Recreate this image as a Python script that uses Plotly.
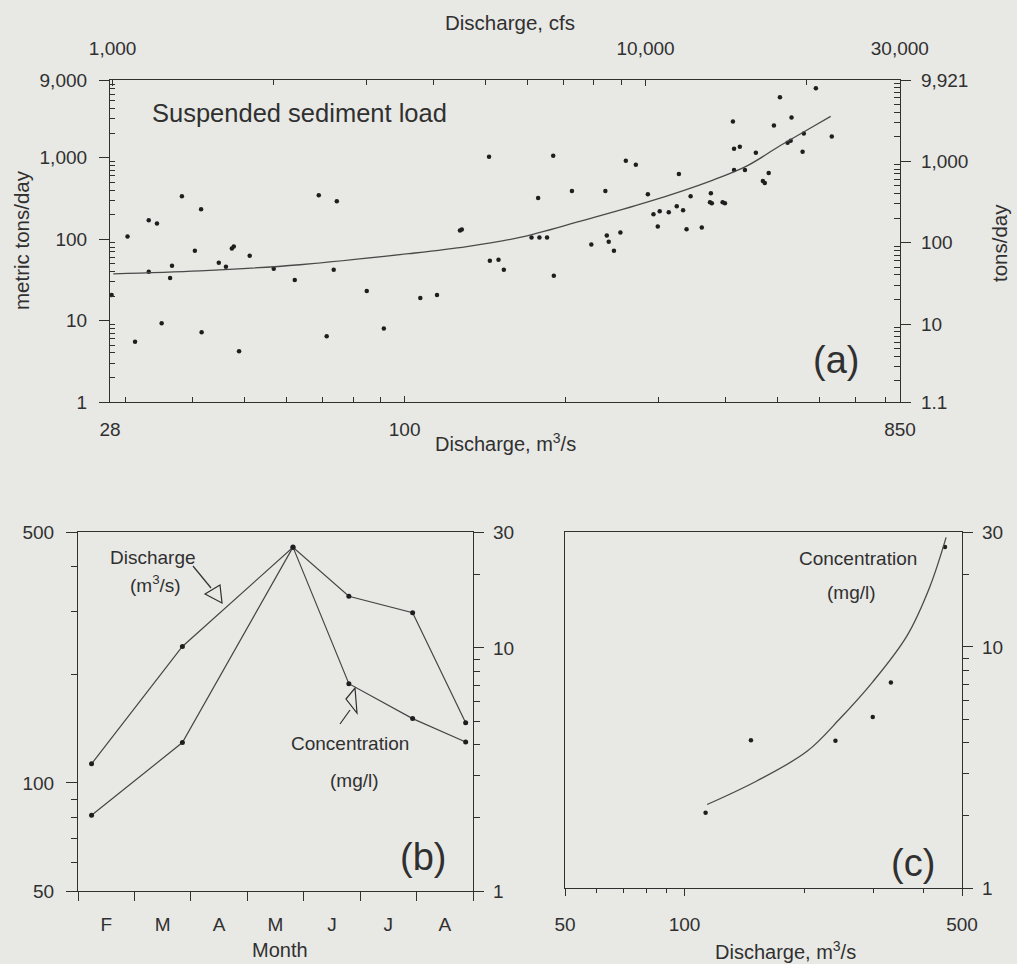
import math
import plotly.graph_objects as go

# ---------------- data ----------------
# (a) suspended sediment load (metric tons/day) vs discharge (m3/s)
sed_discharge = [28.2, 30.2, 31.2, 33.1, 34.3, 33.1, 35.0, 36.3, 36.6, 38.2,
                 40.4, 41.5, 41.6, 44.8, 46.2, 47.4, 47.8, 48.9, 51.2, 56.8,
                 62.2, 69.0, 71.4, 73.6, 74.6, 84.9, 91.4, 107, 115, 127,
                 128, 144, 144.5, 150, 153.5, 173, 179, 185, 190.5, 190,
                 178, 206, 224, 239.5, 241.5, 247, 254, 238, 260, 271.5,
                 286, 293, 301, 313, 298.5, 324, 333, 327, 338, 344,
                 361, 374, 377, 375.5, 395, 399, 413, 415, 425.5, 415,
                 435, 456, 470, 474, 482, 493, 506, 523, 530, 532,
                 558, 561, 591, 633]
sed_load = [20.6, 108, 5.5, 170, 156, 39.7, 9.3, 33.4, 47.1, 337,
            72, 233, 7.2, 51.3, 45.8, 76.5, 81, 4.2, 62.6, 43.2,
            31.6, 347, 6.4, 42, 292, 23.1, 8.0, 18.9, 20.6, 128,
            131, 1026, 54.3, 55.9, 42, 105, 105, 105, 35.4, 1056,
            319, 389, 86, 111, 93, 72, 121, 389, 915, 817,
            357, 202, 220, 214, 143, 254, 226, 632, 132, 337,
            139, 284, 276, 367, 284, 276, 2786, 1290, 1365, 708,
            708, 1150, 517, 489, 650, 2486, 5525, 1530, 1620, 3123,
            1184, 1978, 7141, 1816]
fit_discharge = [28.4, 41.3, 63.6, 101.8, 130.8, 164.5, 213, 285, 379, 439, 506, 583, 630]
fit_load = [37.5, 40.8, 48.5, 66.3, 81, 105, 165, 284, 532, 794, 1400, 2400, 3213]

# (b) seasonal discharge and concentration
month_labels = ["F", "M", "A", "M", "J", "J", "A"]
sample_month = [0.24, 1.85, 3.81, 4.80, 5.93, 6.87]   # months after 1 February
discharge = [113, 240, 453, 331, 298, 147]             # m3/s
concentration = [2.05, 4.08, 26.0, 7.13, 5.12, 4.10]   # mg/l

# (c) concentration rating curve
rating_discharge = [114, 152, 203.5, 246.5, 298, 363, 415, 456]
rating_conc = [2.22, 2.78, 3.69, 5.05, 7.17, 11.1, 17.8, 28.5]

CFS_PER_CMS = 35.3147
SHORT_PER_METRIC = 1.10231

# ---------------- layout helpers ----------------
W, H = 1017, 964
def fx(px): return px / W
def fy(py): return 1 - py / H
def L(v): return math.log10(v)

INK = "#303030"
BG = "#e8e8e5"
FONT = "Liberation Sans, Arial, Helvetica, sans-serif"
EPS = 1e-5

A_X = [fx(110), fx(900)]; A_Y = [fy(402), fy(80)]
B_X = [fx(78), fx(473)];  B_Y = [fy(891), fy(532)]
C_X = [fx(565), fx(962)]; C_Y = [fy(888), fy(532)]

def ax_style(**kw):
    d = dict(showline=True, linecolor=INK, linewidth=1.2, showgrid=False,
             zeroline=False, tickcolor=INK, tickwidth=1.1, automargin=False,
             tickfont=dict(family=FONT, size=19, color=INK), fixedrange=True)
    d.update(kw)
    return d

def minor(vals, ticks="inside", ln=4):
    return dict(tickvals=vals, ticks=ticks, ticklen=ln, tickcolor=INK, tickwidth=1, showgrid=False)

dec_minor = [m * 10 ** e for e in range(0, 4) for m in range(2, 10)]

fig = go.Figure()

# (a)
fig.add_trace(go.Scatter(x=sed_discharge, y=sed_load, mode="markers",
                         marker=dict(size=4.5, color="#1e1e1e"), xaxis="x", yaxis="y",
                         showlegend=False, hoverinfo="skip"))
fig.add_trace(go.Scatter(x=fit_discharge, y=fit_load, mode="lines", line_shape="spline",
                         line=dict(color="#4a4a4a", width=1.3), xaxis="x", yaxis="y",
                         showlegend=False, hoverinfo="skip"))
fig.add_trace(go.Scatter(x=[q * CFS_PER_CMS for q in sed_discharge],
                         y=[v * SHORT_PER_METRIC for v in sed_load], mode="markers",
                         marker=dict(size=1, opacity=0), xaxis="x2", yaxis="y2",
                         showlegend=False, hoverinfo="skip"))
# (b)
fig.add_trace(go.Scatter(x=sample_month, y=discharge, mode="lines+markers",
                         line=dict(color="#454545", width=1.2),
                         marker=dict(size=5, color="#1e1e1e"), xaxis="x3", yaxis="y3",
                         showlegend=False, hoverinfo="skip"))
fig.add_trace(go.Scatter(x=sample_month, y=concentration, mode="lines+markers",
                         line=dict(color="#454545", width=1.2),
                         marker=dict(size=5, color="#1e1e1e"), xaxis="x3", yaxis="y4",
                         showlegend=False, hoverinfo="skip"))
# (c)
fig.add_trace(go.Scatter(x=discharge, y=concentration, mode="markers",
                         marker=dict(size=4.5, color="#1e1e1e"), xaxis="x4", yaxis="y5",
                         showlegend=False, hoverinfo="skip"))
fig.add_trace(go.Scatter(x=rating_discharge, y=rating_conc, mode="lines", line_shape="spline",
                         line=dict(color="#4a4a4a", width=1.3), xaxis="x4", yaxis="y5",
                         showlegend=False, hoverinfo="skip"))

qmin, qmax = 28, 850
lmin, lmax = 1, 9000

fig.update_layout(
    width=W, height=H, margin=dict(l=0, r=0, t=0, b=0, pad=0), autosize=False,
    paper_bgcolor=BG, plot_bgcolor="rgba(0,0,0,0)", showlegend=False,
    xaxis=ax_style(type="log", domain=A_X, anchor="y",
                   range=[L(qmin) - EPS, L(qmax) + EPS],
                   tickmode="array", tickvals=[28, 100, 850], ticktext=["28", "100", "850"],
                   ticks="inside", ticklen=6, ticklabelstandoff=10,
                   minor=minor([30, 40, 50, 60, 70, 80, 90, 200, 300, 400, 500, 600, 700, 800], "inside", 5)),
    xaxis2=ax_style(type="log", overlaying="x", anchor="y", side="top",
                    range=[L(qmin * CFS_PER_CMS) - EPS, L(qmax * CFS_PER_CMS) + EPS],
                    tickmode="array", tickvals=[1000, 10000, 30000],
                    ticktext=["1,000", "10,000", "30,000"],
                    ticks="inside", ticklen=6, ticklabelstandoff=16,
                    minor=minor([2000, 3000, 4000, 5000, 6000, 7000, 8000, 9000, 20000], "inside", 5)),
    yaxis=ax_style(type="log", domain=A_Y, anchor="x",
                   range=[L(lmin) - EPS, L(lmax) + EPS],
                   tickmode="array", tickvals=[1, 10, 100, 1000, 9000],
                   ticktext=["1", "10", "100", "1,000", "9,000"],
                   ticks="outside", ticklen=10, ticklabelstandoff=8,
                   minor=minor([v for v in dec_minor if v < 9000], "inside", 5)),
    yaxis2=ax_style(type="log", overlaying="y", anchor="x", side="right",
                    range=[L(lmin * SHORT_PER_METRIC) - EPS, L(lmax * SHORT_PER_METRIC) + EPS],
                    tickmode="array",
                    tickvals=[lmin * SHORT_PER_METRIC, 10, 100, 1000, lmax * SHORT_PER_METRIC],
                    ticktext=["1.1", "10", "100", "1,000", "9,921"],
                    ticks="outside", ticklen=10, ticklabelstandoff=6,
                    minor=minor([v for v in dec_minor if v < 9900], "inside", 6)),
    xaxis3=ax_style(domain=B_X, anchor="y3", range=[0, 7], mirror=True,
                    tickmode="array", tickvals=[i + 0.5 for i in range(7)], ticktext=month_labels,
                    ticks="", ticklabelstandoff=16,
                    minor=minor(list(range(8)), "outside", 9)),
    yaxis3=ax_style(type="log", domain=B_Y, anchor="x3", range=[L(50) - EPS, L(500) + EPS],
                    tickmode="array", tickvals=[50, 100, 500], ticktext=["50", "100", "500"],
                    ticks="outside", ticklen=11, ticklabelstandoff=8,
                    minor=minor([60, 70, 80, 90, 200, 300, 400], "outside", 6)),
    yaxis4=ax_style(type="log", overlaying="y3", anchor="x3", side="right",
                    range=[L(1) - EPS, L(30) + EPS],
                    tickmode="array", tickvals=[1, 10, 30], ticktext=["1", "10", "30"],
                    ticks="outside", ticklen=10, ticklabelstandoff=5,
                    minor=minor([2, 3, 4, 5, 6, 7, 8, 9, 20], "outside", 6)),
    xaxis4=ax_style(type="log", domain=C_X, anchor="y5", range=[L(50) - EPS, L(500) + EPS],
                    mirror=True, tickmode="array", tickvals=[50, 100, 500],
                    ticktext=["50", "100", "500"], ticks="outside", ticklen=7,
                    ticklabelstandoff=12,
                    minor=minor([60, 70, 80, 90, 200, 300, 400], "outside", 4)),
    yaxis5=ax_style(type="log", domain=C_Y, anchor="x4", side="right", mirror=True,
                    range=[L(1) - EPS, L(30) + EPS],
                    tickmode="array", tickvals=[1, 10, 30], ticktext=["1", "10", "30"],
                    ticks="outside", ticklen=10, ticklabelstandoff=5,
                    minor=minor([2, 3, 4, 5, 6, 7, 8, 9, 20], "outside", 6)),
)

def text(t, px, py, size=19, angle=0):
    fig.add_annotation(text=t, x=fx(px), y=fy(py), xref="paper", yref="paper",
                       showarrow=False, textangle=angle, xanchor="center", yanchor="middle",
                       font=dict(family=FONT, size=size, color=INK))

text("Discharge, cfs", 510, 22, size=20.5)
text("metric tons/day", 21, 240, size=20.5, angle=-90)
text("tons/day", 999, 243, size=20.5, angle=-90)
text("Discharge, m<sup>3</sup>/s", 505, 443, size=20)
text("Suspended sediment load", 299, 113, size=25.5)
text("(a)", 836, 360, size=38)

text("Discharge", 153, 557)
text("(m<sup>3</sup>/s)", 155, 584)
text("Concentration", 350, 743)
text("(mg/l)", 354, 780)
text("(b)", 423, 857, size=38)
text("Month", 280, 950, size=20)

text("Concentration", 858, 558)
text("(mg/l)", 851, 592)
text("(c)", 913, 863, size=38)
text("Discharge, m<sup>3</sup>/s", 785, 950, size=20)

def seg(p0, p1):
    fig.add_shape(type="line", xref="paper", yref="paper",
                  x0=fx(p0[0]), y0=fy(p0[1]), x1=fx(p1[0]), y1=fy(p1[1]),
                  line=dict(color=INK, width=1.2))

def tri(pts):
    path = "M " + " L ".join(f"{fx(x):.5f},{fy(y):.5f}" for x, y in pts) + " Z"
    fig.add_shape(type="path", path=path, xref="paper", yref="paper",
                  line=dict(color=INK, width=1.2), fillcolor="rgba(0,0,0,0)")

# open-triangle arrows in (b)
seg((193, 566), (211, 588))
tri([(205, 594), (220, 585), (222, 603)])
seg((340, 724), (350, 710))
tri([(346, 699), (355, 688), (357, 713)])

fig.write_html("out.html", config={"displayModeBar": False},
               post_script="document.body.style.margin='0';document.body.style.background='%s';" % BG)
